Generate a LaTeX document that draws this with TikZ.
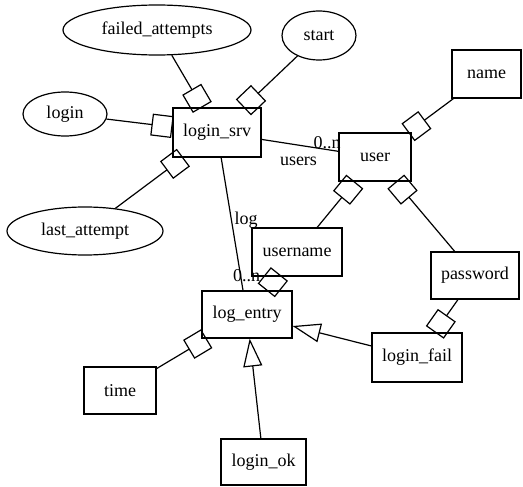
\documentclass[tikz,border=0pt]{standalone}
\usepackage{fontspec}
\setmainfont{Liberation Serif}
\usetikzlibrary{arrows.meta,shapes.geometric}
\begin{document}
\begin{tikzpicture}[x=1pt,y=-1pt,
  every node/.style={font=\fontsize{18}{20}\selectfont, inner sep=0pt},
  ent/.style={draw, line width=1.2pt, rectangle},
  att/.style={draw, line width=1.2pt, ellipse},
  conn/.style={line width=1.2pt},
  agg/.style={conn, -{Square[open,length=21pt,width=22pt]}},
  gen/.style={conn, -{Triangle[open,length=28pt,width=19pt]}},
  lbl/.style={anchor=base}]
\useasboundingbox (0,0) rectangle (523,487);
% attributes (ellipses)
\node[att, minimum width=188pt, minimum height=50pt] (failed) at (157,30) {failed\_attempts};
\node[att, minimum width=84pt, minimum height=44pt] (login) at (65,114) {login};
\node[att, minimum width=156pt, minimum height=48pt] (last) at (85,231) {last\_attempt};
\node[att, minimum width=74pt, minimum height=49pt] (start) at (319,35.5) {start};
% entities (boxes)
\node[ent, minimum width=88pt, minimum height=49pt] (srv) at (217,132.5) {login\_srv};
\node[ent, minimum width=72pt, minimum height=48pt] (user) at (375,157) {user};
\node[ent, minimum width=69pt, minimum height=48pt] (name) at (486.5,74) {name};
\node[ent, minimum width=90pt, minimum height=48pt] (username) at (297,252) {username};
\node[ent, minimum width=88pt, minimum height=47pt] (password) at (475,275.5) {password};
\node[ent, minimum width=90pt, minimum height=47pt] (entry) at (247,314.5) {log\_entry};
\node[ent, minimum width=90pt, minimum height=49pt] (fail) at (417,357.5) {login\_fail};
\node[ent, minimum width=72pt, minimum height=47pt] (time) at (120,390.5) {time};
\node[ent, minimum width=85pt, minimum height=46pt] (ok) at (263.5,462) {login\_ok};
% connectors
\draw[agg] (failed) -- (srv);
\draw[agg] (start) -- (srv);
\draw[agg] (login) -- (srv);
\draw[agg] (last) -- (srv);
\draw[conn] (srv) -- (user);
\draw[agg] (name) -- (user);
\draw[agg] (username) -- (user);
\draw[agg] (password) -- (user);
\draw[agg] (password) -- (fail);
\draw[gen] (fail) -- (entry);
\draw[gen] (ok) -- (entry);
\draw[agg] (time) -- (entry);
\draw[conn] (srv) -- (entry);
\draw[agg] (username) -- (entry);
% labels
\node[lbl] (l1) at (298.5,165) {users};
\node[lbl] (l2) at (327,149) {0..n};
\node[lbl] (l3) at (246,225) {log};
\node[lbl] (l4) at (246.5,281) {0..n};
\end{tikzpicture}
\end{document}
